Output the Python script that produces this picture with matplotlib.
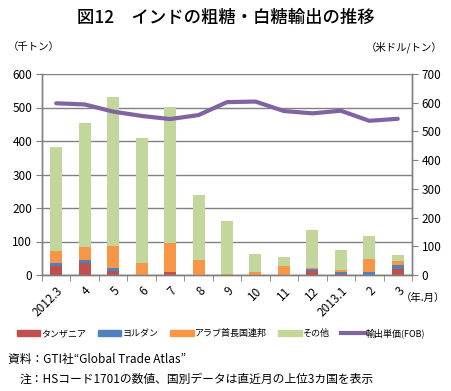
import matplotlib
matplotlib.use("Agg")
import matplotlib.pyplot as plt
from matplotlib.patches import Patch
from matplotlib.lines import Line2D
import numpy as np

plt.rcParams['font.family'] = ['Noto Sans CJK JP', 'DejaVu Sans']

months = ["2012.3", "4", "5", "6", "7", "8", "9", "10", "11", "12", "2013.1", "2", "3"]
tanzania = [27, 35, 12, 0, 9, 0, 0, 0, 0, 12, 3, 1, 17]
jordan = [10, 10, 9, 0, 0, 0, 0, 0, 0, 6, 5, 9, 14]
uae = [36, 38, 66, 37, 88, 45, 2, 10, 28, 2, 8, 38, 10]
total = [381, 455, 532, 410, 502, 240, 160, 62, 53, 134, 74, 115, 60]
fob = [598, 594, 569, 554, 543, 557, 602, 604, 571, 563, 572, 537, 544]

other = [t - a - b - c for t, a, b, c in zip(total, tanzania, jordan, uae)]

c_tz = "#C0504D"
c_jo = "#4F81BD"
c_uae = "#F79646"
c_oth = "#C3D69B"
c_fob = "#8064A2"

fig = plt.figure(figsize=(4.51, 3.91), dpi=100)
ax = fig.add_axes([42 / 451, 1 - 275 / 391, 370 / 451, 201 / 391])
ax2 = ax.twinx()

x = np.arange(len(months))
w = 0.42
b1 = np.array(tanzania)
b2 = b1 + np.array(jordan)
b3 = b2 + np.array(uae)
ax.bar(x, tanzania, w, color=c_tz, zorder=3)
ax.bar(x, jordan, w, bottom=b1, color=c_jo, zorder=3)
ax.bar(x, uae, w, bottom=b2, color=c_uae, zorder=3)
ax.bar(x, other, w, bottom=b3, color=c_oth, zorder=3)

ax2.plot(x, fob, color=c_fob, lw=3, solid_joinstyle='round', solid_capstyle='round')

ax.set_xlim(-0.5, len(months) - 0.5)
ax.set_ylim(0, 600)
ax.set_yticks(range(0, 601, 100))
ax2.set_ylim(0, 700)
ax2.set_yticks(range(0, 701, 100))

ax.grid(axis='y', color='#808080', lw=1, zorder=0)
for a in (ax, ax2):
    a.spines['top'].set_visible(False)
    for s in ('left', 'right', 'bottom'):
        a.spines[s].set_color('#808080')
        a.spines[s].set_linewidth(1)
    a.tick_params(axis='y', labelsize=8.5, color='#808080', length=4, pad=3)

ax.set_xticks(x)
ax.set_xticklabels(months, rotation=45, ha='right', rotation_mode='anchor', fontsize=8.5)
ax.set_xticks(np.arange(-0.5, len(months), 1), minor=True)
ax.tick_params(axis='x', which='major', length=0, pad=7)
ax.tick_params(axis='x', which='minor', length=4, color='#808080')

fig.text(0.5, 1 - 18 / 391, "図12　インドの粗糖・白糖輸出の推移", ha='center', va='center',
         fontsize=12.5, fontweight='medium')
fig.text(8 / 451, 1 - 47 / 391, "（千トン）", ha='left', va='center', fontsize=7.5)
fig.text(443 / 451, 1 - 47 / 391, "（米ドル/トン）", ha='right', va='center', fontsize=7.5)
fig.text(445 / 451, 1 - 298 / 391, "（年.月）", ha='right', va='center', fontsize=7.5)

handles = [Patch(color=c_tz), Patch(color=c_jo), Patch(color=c_uae), Patch(color=c_oth),
           Line2D([], [], color=c_fob, lw=3)]
labels = ["タンザニア", "ヨルダン", "アラブ首長国連邦", "その他", "輸出単価(FOB)"]
fig.legend(handles, labels, loc='center', bbox_to_anchor=(221 / 451, 1 - 333 / 391), ncol=5,
           frameon=False, fontsize=6.5, handlelength=2.6, handleheight=0.6, handletextpad=0.1,
           columnspacing=1.3, borderaxespad=0, borderpad=0)

fig.text(8 / 451, 1 - 360 / 391, "資料：GTI社“Global Trade Atlas”", ha='left', va='center', fontsize=8.5)
fig.text(20 / 451, 1 - 379 / 391, "注：HSコード1701の数値、国別データは直近月の上位3カ国を表示",
         ha='left', va='center', fontsize=8.5)

fig.savefig("out.png", dpi=100)
